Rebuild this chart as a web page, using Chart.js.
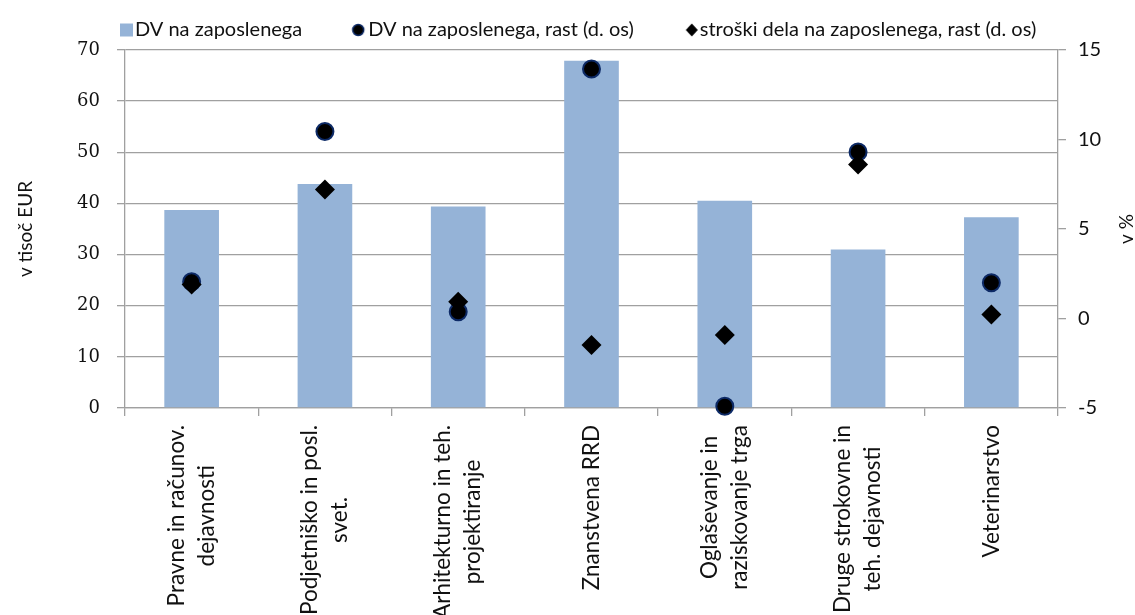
<!DOCTYPE html>
<html>
<head>
<meta charset="utf-8">
<script src="https://cdn.jsdelivr.net/npm/chart.js@4/dist/chart.umd.min.js"></script>
<style>
  body { margin: 0; background: #fff; }
</style>
</head>
<body>
<canvas id="chart" width="1135" height="615"></canvas>
<script>
const categories = [
  ['Pravne in računov.', 'dejavnosti'],
  ['Podjetniško in posl.', 'svet.'],
  ['Arhitekturno in teh.', 'projektiranje'],
  ['Znanstvena RRD'],
  ['Oglaševanje in', 'raziskovanje trga'],
  ['Druge strokovne in', 'teh. dejavnosti'],
  ['Veterinarstvo']
];
const dvNaZaposlenega = [38.7, 43.8, 39.4, 67.9, 40.5, 31.0, 37.3];
const dvRast = [2.05, 10.45, 0.38, 13.94, -4.9, 9.3, 2.0];
const strokiRast = [1.9, 7.2, 0.94, -1.48, -0.92, 8.6, 0.23];
const seriesNames = ['DV na zaposlenega', 'DV na zaposlenega, rast (d. os)', 'stroški dela na zaposlenega, rast (d. os)'];
const leftTitle = 'v tisoč EUR';
const rightTitle = 'v %';

const barColor = '#95b3d7';
const gridColor = '#a0a0a0';
const font = 'Lato';

// legend markers: canvas spans box + half-font gaps so the marker sits right before the text
const legendFs = 20, legendBox = 36, legendPad = 20, padLeft = 69;
function marker(kind, gap) {
  const c = document.createElement('canvas');
  c.width = legendBox + legendFs; c.height = 24;
  const g = c.getContext('2d');
  const r = c.width - gap, cy = 12;
  if (kind === 'rect') {
    g.fillStyle = barColor; g.fillRect(r - 13, cy - 6.5, 13, 13);
  } else if (kind === 'circle') {
    g.fillStyle = '#000'; g.strokeStyle = '#0d2a66'; g.lineWidth = 1.5;
    g.beginPath(); g.arc(r - 6, cy, 5.5, 0, Math.PI * 2); g.fill(); g.stroke();
  } else {
    g.fillStyle = '#000';
    g.beginPath(); g.moveTo(r - 6, cy - 6.5); g.lineTo(r, cy); g.lineTo(r - 6, cy + 6.5); g.lineTo(r - 12, cy); g.closePath(); g.fill();
  }
  return c;
}
const markers = [marker('rect', 2), marker('circle', 4), marker('diamond', 2)];

const extras = {
  id: 'extras',
  afterDraw(chart) {
    const ctx = chart.ctx, xs = chart.scales.x, area = chart.chartArea;
    ctx.save();
    ctx.fillStyle = '#111';
    ctx.font = '22.5px ' + font;
    ctx.textAlign = 'center';
    ctx.textBaseline = 'middle';
    const top = area.bottom + 17, lh = 30;
    categories.forEach((lines, i) => {
      const cx = xs.getPixelForTick(i);
      const maxW = Math.max(...lines.map(l => ctx.measureText(l).width));
      ctx.save();
      ctx.translate(cx, top);
      ctx.rotate(-Math.PI / 2);
      lines.forEach((l, k) => ctx.fillText(l, -maxW / 2, (k - (lines.length - 1) / 2) * lh));
      ctx.restore();
    });
    const cy = (area.top + area.bottom) / 2;
    ctx.font = '19px ' + font;
    [[26, leftTitle], [1127, rightTitle]].forEach(([x, t]) => {
      ctx.save();
      ctx.translate(x, cy);
      ctx.rotate(-Math.PI / 2);
      ctx.fillText(t, 0, 0);
      ctx.restore();
    });
    ctx.restore();
  }
};

new Chart(document.getElementById('chart'), {
  data: {
    labels: categories,
    datasets: [
      { type: 'bar', label: seriesNames[0], data: dvNaZaposlenega, backgroundColor: barColor,
        barPercentage: 0.41, categoryPercentage: 1, yAxisID: 'y', order: 3 },
      { type: 'line', label: seriesNames[1], data: dvRast, showLine: false, yAxisID: 'y1', order: 2,
        pointStyle: 'circle', pointRadius: 8.5, pointHoverRadius: 8.5, pointBackgroundColor: '#000',
        pointBorderColor: '#0d2a66', pointBorderWidth: 2, clip: false },
      { type: 'line', label: seriesNames[2], data: strokiRast, showLine: false, yAxisID: 'y1', order: 1,
        pointStyle: 'rectRot', pointRadius: 10, pointHoverRadius: 10, pointBackgroundColor: '#000',
        pointBorderWidth: 0, clip: false }
    ]
  },
  options: {
    responsive: false,
    animation: false,
    devicePixelRatio: 1,
    layout: { padding: { left: padLeft, top: 0, right: 0, bottom: 0 } },
    plugins: {
      tooltip: { enabled: false },
      legend: {
        position: 'top',
        align: 'start',
        labels: {
          usePointStyle: true,
          pointStyleWidth: legendBox,
          padding: legendPad,
          color: '#111',
          font: { family: font, size: legendFs },
          sort: (a, b) => a.datasetIndex - b.datasetIndex,
          generateLabels(chart) {
            const items = Chart.defaults.plugins.legend.labels.generateLabels(chart);
            return items.map(it => Object.assign(it, { pointStyle: markers[it.datasetIndex] }));
          }
        }
      }
    },
    scales: {
      x: {
        offset: true,
        grid: { offset: true, drawOnChartArea: false, drawTicks: true, tickLength: 8, color: gridColor, lineWidth: 1.3 },
        border: { color: gridColor, width: 1.3 },
        ticks: { display: false },
        afterFit: s => { s.height = 207; }
      },
      y: {
        position: 'left',
        min: 0, max: 70,
        ticks: { stepSize: 10, padding: 17, color: '#111', font: { family: 'DejaVu Serif', size: 18 } },
        grid: { color: gridColor, lineWidth: 1.3, tickLength: 8 },
        border: { color: gridColor, width: 1.3 },
        afterFit: s => { s.width = 125 - padLeft; }
      },
      y1: {
        position: 'right',
        min: -5, max: 15,
        ticks: { stepSize: 5, padding: 12, color: '#111', font: { family: font, size: 20 } },
        grid: { drawOnChartArea: false, color: gridColor, lineWidth: 1.3, tickLength: 8 },
        border: { color: gridColor, width: 1.3 },
        afterFit: s => { s.width = 77; }
      }
    }
  },
  plugins: [extras]
});
</script>
</body>
</html>
